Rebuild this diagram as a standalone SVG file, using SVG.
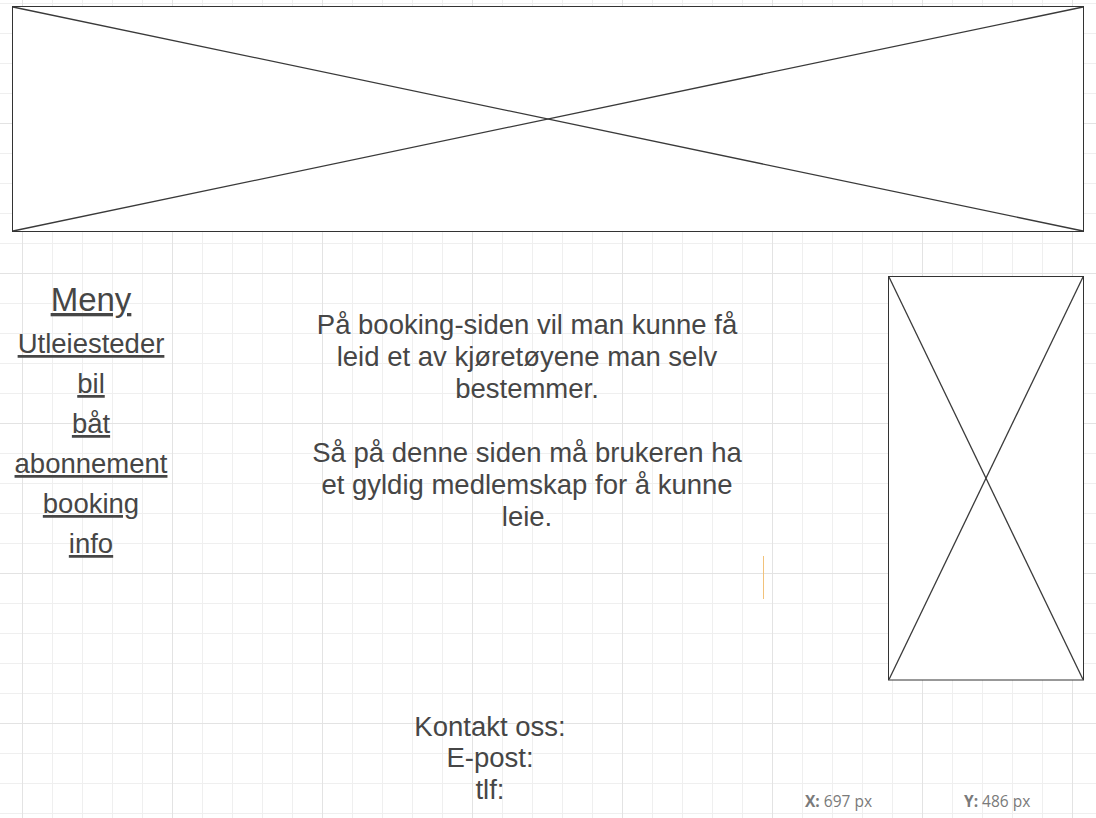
<svg xmlns="http://www.w3.org/2000/svg" width="1096" height="818" viewBox="0 0 1096 818">
  <defs>
    <pattern id="minor" patternUnits="userSpaceOnUse" x="22" y="3" width="30" height="30">
      <rect x="0" y="0" width="1" height="30" fill="#efefef"/>
      <rect x="0" y="0" width="30" height="1" fill="#efefef"/>
    </pattern>
    <pattern id="major" patternUnits="userSpaceOnUse" x="22" y="123" width="150" height="150">
      <rect x="0" y="0" width="1" height="150" fill="#e3e3e3"/>
      <rect x="0" y="0" width="150" height="1" fill="#e3e3e3"/>
    </pattern>
    <style>
      .box { fill: #ffffff; stroke: #333333; stroke-width: 1; }
      .diag { stroke: #3a3a3a; stroke-width: 1.3; fill: none; }
      .txt { font-family: "Liberation Sans", Arial, sans-serif; fill: #464646; text-anchor: middle; }
      .menu { font-size: 27.5px; text-decoration: underline; }
      .body { font-size: 27.5px; }
      .coord { font-family: "Open Sans", "Liberation Sans", sans-serif; font-size: 15.5px; fill: #7a7a7a; }
    </style>
  </defs>

  <rect width="1096" height="818" fill="#ffffff"/>
  <rect width="1096" height="818" fill="url(#minor)"/>
  <rect width="1096" height="818" fill="url(#major)"/>

  <g id="banner-image">
    <rect class="box" x="12.5" y="6.5" width="1071" height="225"/>
    <line class="diag" x1="13" y1="7" x2="1083" y2="231"/>
    <line class="diag" x1="1083" y1="7" x2="13" y2="231"/>
  </g>

  <g id="side-image">
    <rect class="box" x="888.5" y="276.5" width="195" height="403.5"/>
    <line class="diag" x1="889" y1="277" x2="1083" y2="679.5"/>
    <line class="diag" x1="1083" y1="277" x2="889" y2="679.5"/>
  </g>

  <g id="menu">
    <text class="txt menu" x="91" y="311" style="font-size:33px">Meny</text>
    <text class="txt menu" x="91" y="353">Utleiesteder</text>
    <text class="txt menu" x="91" y="393">bil</text>
    <text class="txt menu" x="91" y="433">båt</text>
    <text class="txt menu" x="91" y="473">abonnement</text>
    <text class="txt menu" x="91" y="513">booking</text>
    <text class="txt menu" x="91" y="553">info</text>
  </g>

  <g id="description">
    <text class="txt body" x="527" y="334">På booking-siden vil man kunne få</text>
    <text class="txt body" x="527" y="366">leid et av kjøretøyene man selv</text>
    <text class="txt body" x="527" y="398">bestemmer.</text>
    <text class="txt body" x="527" y="462">Så på denne siden må brukeren ha</text>
    <text class="txt body" x="527" y="494">et gyldig medlemskap for å kunne</text>
    <text class="txt body" x="527" y="526">leie.</text>
  </g>

  <g id="cursor">
    <line x1="763.5" y1="556" x2="763.5" y2="599" stroke="#f2c27a" stroke-width="1"/>
  </g>

  <g id="contact">
    <text class="txt body" x="490" y="736">Kontakt oss:</text>
    <text class="txt body" x="490" y="767">E-post:</text>
    <text class="txt body" x="490" y="799">tlf:</text>
  </g>

  <g id="coordinates">
    <text class="coord" x="805" y="807"><tspan font-weight="bold">X:</tspan> 697 px</text>
    <text class="coord" x="964" y="807"><tspan font-weight="bold">Y:</tspan> 486 px</text>
  </g>

  <g id="connectors"/>
</svg>
